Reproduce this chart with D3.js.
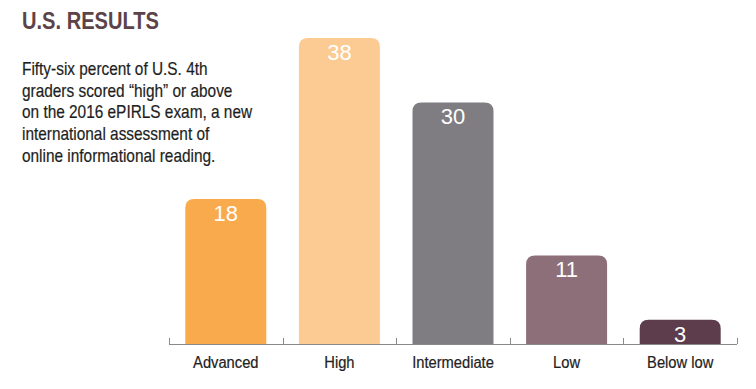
<!DOCTYPE html>
<html>
<head>
<meta charset="utf-8">
<script src="https://cdn.jsdelivr.net/npm/d3@7"></script>
<style>
  body { margin: 0; background: #fff; }
  svg { display: block; }
  .narrow { font-family: "Liberation Sans", Arial, sans-serif; }
</style>
</head>
<body>
<svg id="chart"></svg>
<script>
const categories = ["Advanced", "High", "Intermediate", "Low", "Below low"];
const values = [18, 38, 30, 11, 3];
const colors = ["#f9aa4c", "#fccb93", "#7f7d82", "#8d6f79", "#5d3d4c"];
const title = "U.S. RESULTS";
const blurb = [
  "Fifty-six percent of U.S. 4th",
  "graders scored \u201chigh\u201d or above",
  "on the 2016 ePIRLS exam, a new",
  "international assessment of",
  "online informational reading."
];

const width = 756, height = 389;
const svg = d3.select("#chart").attr("width", width).attr("height", height);

// the original uses a condensed face; squeeze Liberation Sans horizontally instead
const squeezeTitle = 0.855, squeezeBody = 0.88, squeezeLabel = 0.92;

const x = d3.scaleBand()
  .domain(categories)
  .range([169, 737])
  .paddingInner(0.287)
  .paddingOuter(0.1435);

const y = d3.scaleLinear()
  .domain([0, 38])
  .range([344, 38]);

// bar with rounded top corners only
const barPath = (x0, y0, w, h, r) => {
  r = Math.min(r, h, w / 2);
  return `M${x0},${y0 + h}V${y0 + r}Q${x0},${y0} ${x0 + r},${y0}H${x0 + w - r}Q${x0 + w},${y0} ${x0 + w},${y0 + r}V${y0 + h}Z`;
};

const data = categories.map((c, i) => ({ cat: c, value: values[i], color: colors[i] }));

svg.append("g").selectAll("path")
  .data(data)
  .join("path")
  .attr("d", d => barPath(x(d.cat), y(d.value), x.bandwidth(), y(0) - y(d.value), 9))
  .attr("fill", d => d.color);

svg.append("g").selectAll("text")
  .data(data)
  .join("text")
  .attr("x", d => x(d.cat) + x.bandwidth() / 2)
  .attr("y", d => y(d.value) + 22)
  .attr("text-anchor", "middle")
  .attr("fill", "#fff")
  .style("font-family", "'Liberation Sans', Arial, sans-serif")
  .style("font-size", "22px")
  .text(d => d.value);

// axis with upward ticks at band edges
const axis = svg.append("g").attr("stroke", "#8a8a8a").attr("stroke-width", 1);
const step = x.step();
const edges = d3.range(categories.length + 1).map(i => x.range()[0] + i * step);
axis.append("line")
  .attr("x1", edges[0]).attr("x2", edges[edges.length - 1])
  .attr("y1", y(0) + 0.5).attr("y2", y(0) + 0.5);
axis.selectAll("line.tick")
  .data(edges)
  .join("line")
  .attr("class", "tick")
  .attr("x1", d => Math.round(d) + 0.5).attr("x2", d => Math.round(d) + 0.5)
  .attr("y1", y(0)).attr("y2", y(0) - 6);

svg.append("g").selectAll("text")
  .data(categories)
  .join("text")
  .attr("class", "narrow")
  .attr("transform", d => `translate(${x(d) + x.bandwidth() / 2},368) scale(${squeezeLabel},1)`)
  .attr("text-anchor", "middle")
  .attr("fill", "#222")
  .attr("stroke", "#222")
  .attr("stroke-width", 0.2)
  .style("font-size", "16px")
  .text(d => d);

svg.append("text")
  .attr("class", "narrow")
  .attr("transform", `translate(22,29) scale(${squeezeTitle},1)`)
  .attr("fill", "#5b4349")
  .style("font-size", "23.5px")
  .style("font-weight", "bold")
  .text(title);

svg.append("g")
  .attr("transform", `translate(22,0) scale(${squeezeBody},1)`)
  .selectAll("text")
  .data(blurb)
  .join("text")
  .attr("class", "narrow")
  .attr("x", 0)
  .attr("y", (d, i) => 75 + i * 21.7)
  .attr("fill", "#1e1e1e")
  .attr("stroke", "#1e1e1e")
  .attr("stroke-width", 0.2)
  .style("font-size", "17.5px")
  .text(d => d);
</script>
</body>
</html>
